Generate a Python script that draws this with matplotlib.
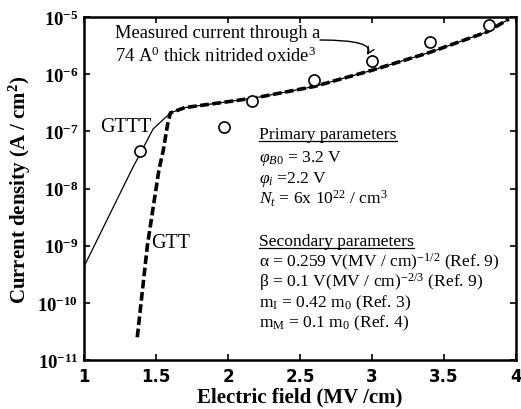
import math
import matplotlib
matplotlib.use("Agg")
import matplotlib.pyplot as plt
from matplotlib.ticker import FixedLocator, FuncFormatter, NullLocator
from matplotlib.lines import Line2D

plt.rcParams['font.family'] = ['Liberation Serif', 'DejaVu Serif']
plt.rcParams['mathtext.fontset'] = 'custom'
plt.rcParams['mathtext.rm'] = 'Liberation Serif'
plt.rcParams['mathtext.it'] = 'Liberation Serif:italic'
plt.rcParams['mathtext.bf'] = 'Liberation Serif:bold'

# ---- data ----
meas_field = [1.39, 1.97, 2.17, 2.6, 3.0, 3.4, 3.81]
meas_J = [4.5e-8, 1.17e-7, 3.4e-7, 7.9e-7, 1.7e-6, 3.6e-6, 7.2e-6]

gttt_field = [1.0, 1.33, 1.48, 1.6, 1.7, 2.0, 2.2, 2.6, 3.0, 3.4, 3.8, 3.95]
gttt_J = [4.3e-10, 2.1e-8, 1.1e-7, 2.1e-7, 2.6e-7, 3.3e-7, 3.9e-7, 6.1e-7,
          1.17e-6, 2.4e-6, 5.5e-6, 9.2e-6]

gtt_field = [1.37, 1.44, 1.52, 1.55, 1.58, 1.6, 1.7, 2.0, 2.2, 2.6, 3.0, 3.4, 3.8, 3.95]
gtt_J = [2.5e-11, 1e-9, 2.1e-8, 4.6e-8, 1.3e-7, 2.1e-7, 2.6e-7, 3.3e-7, 3.9e-7,
         6.1e-7, 1.17e-6, 2.4e-6, 5.5e-6, 9.2e-6]

x_ticks = [1, 1.5, 2, 2.5, 3, 3.5, 4]
x_tick_labels = ['1', '1.5', '2', '2.5', '3', '3.5', '4']
y_exponents = [-11, -10, -9, -8, -7, -6, -5]

primary_lines = [r'$\varphi_{B0}$ = 3.2 V', r'$\varphi_i$ =2.2 V',
                 r'$N_t$ = 6x 10$^{22}$ / cm$^3$']
secondary_lines = [r'α = 0.259 V(MV / cm)$^{-1/2}$ (Ref. 9)',
                   r'β = 0.1 V(MV / cm)$^{-2/3}$ (Ref. 9)',
                   r'm$_\mathrm{I}$ = 0.42 m$_0$ (Ref. 3)',
                   r'm$_\mathrm{M}$ = 0.1 m$_0$ (Ref. 4)']

fig = plt.figure(figsize=(5.21, 4.10), dpi=100)
ax = fig.add_axes([84/521, 1-361/410, 432/521, 343/410])

ax.plot(gttt_field, gttt_J, color='black', lw=0.9, solid_capstyle='butt')
ax.plot(gtt_field, gtt_J, color='black', lw=2.6, dashes=(2.4, 1.0))
ax.plot(meas_field, meas_J, linestyle='none', marker='o', ms=8,
        mfc='white', mec='black', mew=1.2)

ax.set_yscale('log')
ax.set_xlim(1, 4)
ax.set_ylim(1e-11, 1e-5)
ax.xaxis.set_major_locator(FixedLocator(x_ticks))
ax.set_xticklabels(x_tick_labels, fontfamily='DejaVu Sans', fontweight='bold', fontsize=12)
ax.yaxis.set_major_locator(FixedLocator([10.0**e for e in y_exponents]))
ax.yaxis.set_minor_locator(NullLocator())
ax.yaxis.set_major_formatter(FuncFormatter(lambda v, p: r'$\mathbf{10^{%d}}$' % round(math.log10(v))))
ax.tick_params(axis='both', which='both', direction='in', top=True, right=True,
               length=4, width=1.2)
ax.tick_params(axis='y', labelsize=13.5, pad=4)
ax.tick_params(axis='x', pad=5)
for s in ax.spines.values():
    s.set_linewidth(1.8)

ax.set_xlabel('Electric field (MV /cm)', fontsize=15, fontweight='bold', labelpad=1)
ax.set_ylabel(r'Current density (A / cm$^{\mathbf{2}}$)', fontsize=15, fontweight='bold', labelpad=3)

def fx(px):
    return (px - 84) / 432.0

def fy(py):
    return (361 - py) / 343.0

fs = 13.3
ax.text(fx(115), fy(33), 'Measured current through a', transform=ax.transAxes,
        fontsize=fs, va='center', ha='left')
ax.text(fx(115), fy(56), r'74 A$^0$ thick nitrided oxide$^3$', transform=ax.transAxes,
        fontsize=fs, va='center', ha='left')
ax.annotate('', xy=(fx(367), fy(56)), xycoords='axes fraction',
            xytext=(fx(320), fy(41)), textcoords='axes fraction',
            arrowprops=dict(arrowstyle='->', color='black', lw=1.0,
                            connectionstyle='angle3,angleA=0,angleB=60',
                            shrinkA=0, shrinkB=0, mutation_scale=12))

ax.text(fx(126), fy(127), 'GTTT', transform=ax.transAxes, fontsize=14.5, va='center', ha='center')
ax.text(fx(171), fy(244), 'GTT', transform=ax.transAxes, fontsize=14.5, va='center', ha='center')

fs2 = 12.6
lx = fx(259)
h1 = ax.text(lx, fy(139), 'Primary parameters', transform=ax.transAxes,
             fontsize=fs2, va='baseline')
for line, base in zip(primary_lines, [162, 183, 204]):
    ax.text(lx, fy(base), line, transform=ax.transAxes, fontsize=fs2, va='baseline')
h2 = ax.text(lx, fy(246), 'Secondary parameters', transform=ax.transAxes,
             fontsize=fs2, va='baseline')
for line, base in zip(secondary_lines, [267, 287, 307, 327]):
    ax.text(lx, fy(base), line, transform=ax.transAxes, fontsize=fs2, va='baseline')

fig.canvas.draw()
r = fig.canvas.get_renderer()
inv = ax.transAxes.inverted()
for h in (h1, h2):
    bb = h.get_window_extent(r)
    (x0, y0), (x1, _) = inv.transform([(bb.x0, bb.y0), (bb.x1, bb.y0)])
    ax.add_line(Line2D([x0, x1], [y0 + 0.004, y0 + 0.004], transform=ax.transAxes,
                       color='black', lw=0.9))

fig.savefig('out.png', dpi=100)
